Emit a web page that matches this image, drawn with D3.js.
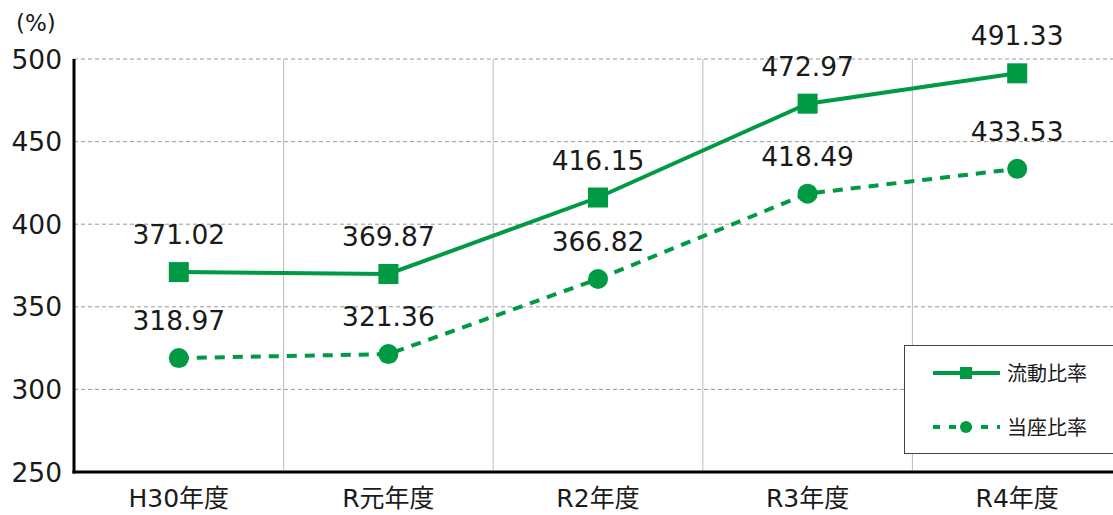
<!DOCTYPE html>
<html>
<head>
<meta charset="utf-8">
<style>
  body { margin: 0; background: #fff; }
  svg text { font-family: "DejaVu Sans", "Noto Sans CJK JP", sans-serif; fill: #1a1a1a; }
</style>
<script src="https://d3js.org/d3.v7.min.js"></script>
</head>
<body>
<svg width="1113" height="515"></svg>
<script>
var categories = ["H30年度", "R元年度", "R2年度", "R3年度", "R4年度"];
var ryudo = [371.02, 369.87, 416.15, 472.97, 491.33];
var toza = [318.97, 321.36, 366.82, 418.49, 433.53];
var yTicks = [250, 300, 350, 400, 450, 500];
var seriesNames = ["流動比率", "当座比率"];

var green = "#009944";
var svg = d3.select("svg");
var mLeft = 74, mRight = 1122, mTop = 59, mBottom = 472;

var x = d3.scaleBand().domain(categories).range([mLeft, mRight]);
var y = d3.scaleLinear().domain([250, 500]).range([mBottom, mTop]);
var cx = function(d, i) { return x(categories[i]) + x.bandwidth() / 2; };

// horizontal dashed grid
svg.append("g").selectAll("line").data(yTicks.slice(1)).enter().append("line")
  .attr("x1", mLeft).attr("x2", 1113)
  .attr("y1", function(d) { return y(d); }).attr("y2", function(d) { return y(d); })
  .attr("stroke", "#999").attr("stroke-dasharray", "4,3").attr("stroke-width", 1);

// vertical grid between categories
svg.append("g").selectAll("line").data(categories.slice(1)).enter().append("line")
  .attr("x1", function(d) { return x(d); }).attr("x2", function(d) { return x(d); })
  .attr("y1", mTop).attr("y2", mBottom)
  .attr("stroke", "#bbb").attr("stroke-width", 1);

// axes
svg.append("line").attr("x1", mLeft).attr("x2", mLeft).attr("y1", mTop).attr("y2", mBottom + 1.5)
  .attr("stroke", "#000").attr("stroke-width", 3);
svg.append("line").attr("x1", mLeft - 1.5).attr("x2", 1113).attr("y1", mBottom).attr("y2", mBottom)
  .attr("stroke", "#000").attr("stroke-width", 3);

svg.append("g").selectAll("text").data(yTicks).enter().append("text")
  .attr("x", mLeft - 12).attr("y", function(d) { return y(d) + 9.5; })
  .attr("text-anchor", "end").style("font-size", "26.5px").text(function(d) { return d; });

svg.append("text").attr("x", 16).attr("y", 31).style("font-size", "23px").text("(%)");

svg.append("g").selectAll("text").data(categories).enter().append("text")
  .attr("x", function(d) { return x(d) + x.bandwidth() / 2; }).attr("y", 507)
  .attr("text-anchor", "middle").style("font-size", "25px").text(function(d) { return d; });

var line = d3.line().x(cx).y(function(d) { return y(d); });

// 流動比率
svg.append("path").datum(ryudo).attr("d", line).attr("fill", "none")
  .attr("stroke", green).attr("stroke-width", 4);
svg.append("g").selectAll("rect").data(ryudo).enter().append("rect")
  .attr("x", function(d, i) { return cx(d, i) - 10; }).attr("y", function(d) { return y(d) - 10; })
  .attr("width", 20).attr("height", 20).attr("fill", green);

// 当座比率
svg.append("path").datum(toza).attr("d", line).attr("fill", "none")
  .attr("stroke", green).attr("stroke-width", 4).attr("stroke-dasharray", "10,8");
svg.append("g").selectAll("circle").data(toza).enter().append("circle")
  .attr("cx", cx).attr("cy", function(d) { return y(d); })
  .attr("r", 10).attr("fill", green);

// value labels
[ryudo, toza].forEach(function(s) {
  svg.append("g").selectAll("text").data(s).enter().append("text")
    .attr("x", cx).attr("y", function(d) { return y(d) - 28; })
    .attr("text-anchor", "middle").style("font-size", "26.5px")
    .text(function(d) { return d.toFixed(2); });
});

// legend
var lg = svg.append("g");
lg.append("rect").attr("x", 904.5).attr("y", 345.5).attr("width", 220).attr("height", 108)
  .attr("fill", "#fff").attr("stroke", "#444").attr("stroke-width", 1);
lg.append("line").attr("x1", 933).attr("x2", 1000).attr("y1", 373).attr("y2", 373)
  .attr("stroke", green).attr("stroke-width", 4);
lg.append("rect").attr("x", 960).attr("y", 367).attr("width", 12).attr("height", 12).attr("fill", green);
lg.append("line").attr("x1", 933).attr("x2", 1000).attr("y1", 427).attr("y2", 427)
  .attr("stroke", green).attr("stroke-width", 4).attr("stroke-dasharray", "7,9");
lg.append("circle").attr("cx", 966).attr("cy", 427).attr("r", 6).attr("fill", green);
lg.selectAll("text.lbl").data(seriesNames).enter().append("text")
  .attr("x", 1007).attr("y", function(d, i) { return 381 + i * 54; })
  .style("font-size", "20px").text(function(d) { return d; });
</script>
</body>
</html>
